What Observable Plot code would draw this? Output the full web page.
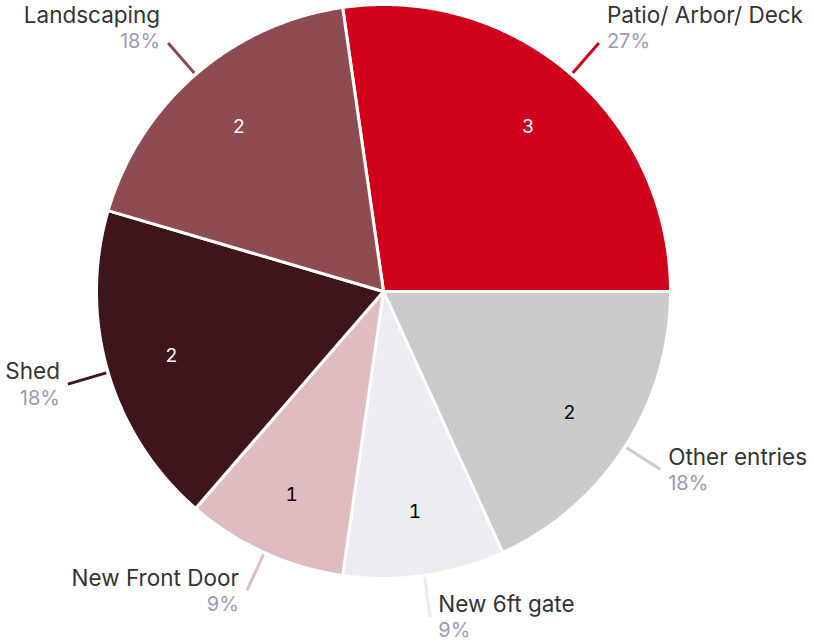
<!DOCTYPE html>
<html>
<head>
<meta charset="utf-8">
<script src="https://cdn.jsdelivr.net/npm/d3@7"></script>
<script src="https://cdn.jsdelivr.net/npm/@observablehq/plot@0.6"></script>
<style>
  html, body { margin: 0; padding: 0; background: #fff; }
  #chart svg { display: block; }
</style>
</head>
<body>
<div id="chart"></div>
<script>
// ---- data ----
const categories = ["Patio/ Arbor/ Deck", "Other entries", "New 6ft gate", "New Front Door", "Shed", "Landscaping"];
const values = [3, 2, 1, 1, 2, 2];
const palette = ["#d0021b", "#cbcbcb", "#ececf2", "#dfbcc0", "#3e151b", "#8e4b52"];

// ---- build slices ----
const total = d3.sum(values);
const deg = Math.PI / 180;
// first slice ends at 3 o'clock
const startAngle = (90 - values[0] / total * 360) * deg;
let acc = startAngle;
const slices = categories.map((c, i) => {
  const a0 = acc, a1 = acc + values[i] / total * 2 * Math.PI;
  acc = a1;
  return {category: c, value: values[i], a0, a1, mid: (a0 + a1) / 2,
          pct: Math.round(values[i] / total * 100) + "%"};
});
const polyPts = [];
for (const s of slices) {
  polyPts.push({category: s.category, x: 0, y: 0});
  const n = Math.max(8, Math.ceil((s.a1 - s.a0) / (0.5 * deg)));
  for (let k = 0; k <= n; k++) {
    const a = s.a0 + (s.a1 - s.a0) * k / n;
    polyPts.push({category: s.category, x: Math.sin(a), y: Math.cos(a)});
  }
}
const colorOf = new Map(categories.map((c, i) => [c, palette[i]]));
const inner = 0.77, r1 = 1.007, r2 = 1.146;
const labels = slices.map(s => {
  const right = Math.sin(s.mid) >= 0;
  const top = Math.cos(s.mid) > 0;
  return {...s, right, top,
    lx1: r1 * Math.sin(s.mid), ly1: r1 * Math.cos(s.mid),
    lx2: r2 * Math.sin(s.mid), ly2: r2 * Math.cos(s.mid),
    ix: inner * Math.sin(s.mid), iy: inner * Math.cos(s.mid),
    ink: d3.lab(colorOf.get(s.category)).l < 55 ? "#ffffff" : "#000000"};
});

const font = "Inter, 'Noto Sans', sans-serif";
const outerLabels = (side, top) => {
  const data = labels.filter(d => d.right === side && d.top === top);
  return [
    Plot.text(data, {
      x: "lx2", y: "ly2", text: "category",
      dx: side ? 8 : -8, dy: top ? -27 : -12,
      textAnchor: side ? "start" : "end", fontSize: 22.5, fill: "#333333"
    }),
    Plot.text(data, {
      x: "lx2", y: "ly2", text: "pct",
      dx: side ? 8 : -8, dy: top ? -1 : 14,
      textAnchor: side ? "start" : "end", fontSize: 20, fill: "#9b9bb4"
    })
  ];
};

const chart = Plot.plot({
  width: 814, height: 642,
  marginLeft: 96, marginRight: 144, marginTop: 4, marginBottom: 64,
  x: {domain: [-1, 1], axis: null},
  y: {domain: [-1, 1], axis: null},
  color: {domain: categories, range: palette},
  style: {fontFamily: font, background: "#fff", overflow: "visible"},
  marks: [
    Plot.line(polyPts, {x: "x", y: "y", z: "category", fill: "category",
      stroke: "#ffffff", strokeWidth: 3, strokeLinejoin: "round", curve: "linear-closed"}),
    Plot.link(labels, {x1: "lx1", y1: "ly1", x2: "lx2", y2: "ly2",
      stroke: "category", strokeWidth: 3}),
    Plot.text(labels, {x: "ix", y: "iy", text: "value", fill: "ink", fontSize: 19, dy: 2}),
    ...outerLabels(true, true),
    ...outerLabels(true, false),
    ...outerLabels(false, true),
    ...outerLabels(false, false)
  ]
});
document.getElementById("chart").append(chart);
</script>
</body>
</html>
